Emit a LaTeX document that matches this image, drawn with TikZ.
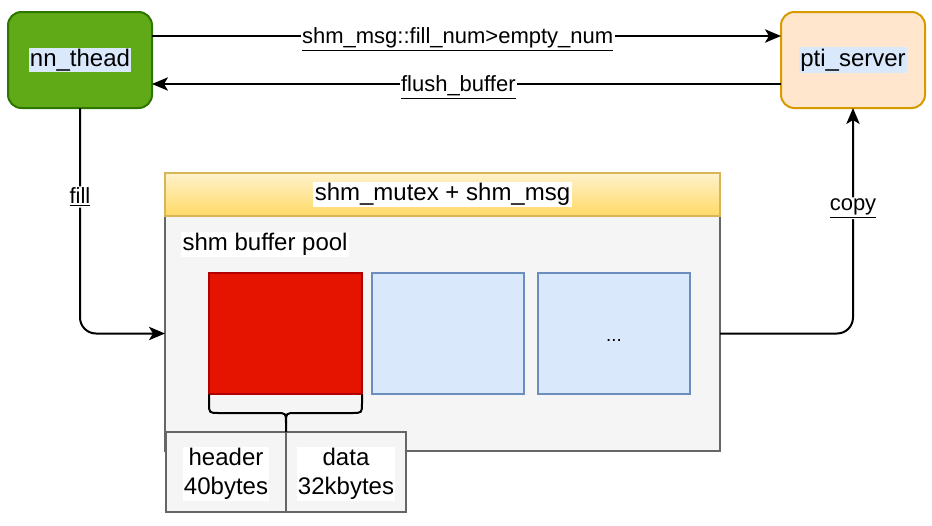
\documentclass[tikz,border=0pt]{standalone}
\usepackage{fontspec}
\setmainfont{Liberation Sans}
\usetikzlibrary{arrows.meta, positioning}
\definecolor{nnfill}{HTML}{60A917}
\definecolor{nndraw}{HTML}{2D7600}
\definecolor{ptifill}{HTML}{FFE6CC}
\definecolor{ptidraw}{HTML}{D79B00}
\definecolor{bluefill}{HTML}{DAE8FC}
\definecolor{bluedraw}{HTML}{6C8EBF}
\definecolor{redfill}{HTML}{E51400}
\definecolor{reddraw}{HTML}{B20000}
\definecolor{grayfill}{HTML}{F5F5F5}
\definecolor{graydraw}{HTML}{666666}
\definecolor{yellowtop}{HTML}{FFF2CC}
\definecolor{yellowbot}{HTML}{FFD966}
\definecolor{yellowdraw}{HTML}{D6B656}
\newcommand{\txtbg}[2]{{\setlength{\fboxsep}{1pt}\colorbox{#1}{#2}}}
\tikzstyle{arrow} = [
    line width=1.5pt,
    -{Stealth[length=12pt, width=10pt, inset=3pt]}
]

\begin{document}
\begin{tikzpicture}[
    x=0.75pt, y=-0.75pt,
    every node/.style={font=\fontsize{18}{21.6}\selectfont},
    box/.style={
        rectangle,
        draw,
        line width=1.5pt,
        outer sep=0pt,
        align=center
    },
    proc/.style={
        box,
        rounded corners=10pt,
        minimum width=108pt,
        minimum height=72pt
    },
    cell/.style={
        box,
        minimum width=114pt,
        minimum height=90.75pt
    },
    field/.style={
        box,
        fill=grayfill,
        draw=graydraw,
        minimum width=90pt,
        minimum height=60pt
    },
    lbl/.style={fill=white, inner sep=1pt},
    elbl/.style={lbl, font=\fontsize{16.5}{19.8}\selectfont, yshift=-2.5pt},
    bracepath/.style={line width=1.5pt}
]
\useasboundingbox (0,0) rectangle (932,525);

% Processes
\node[proc, fill=nnfill, draw=nndraw] (nn) at (80,60) {\txtbg{bluefill}{nn\_thead}};
\node[proc, fill=ptifill, draw=ptidraw] (pti) at (853,60) {\txtbg{bluefill}{pti\_server}};

% Shared memory
\node[box, fill=grayfill, draw=graydraw, minimum width=416.25pt, minimum height=176.25pt] (pool) at (442.5,333.5) {};
\node[box, top color=yellowtop, bottom color=yellowbot, draw=yellowdraw, minimum width=416.25pt, minimum height=32.25pt, above=0pt of pool] (mutex) {\txtbg{white}{shm\_mutex + shm\_msg}};
\node[lbl, anchor=north west] (pooltxt) at (181,232) {shm buffer pool};

% Buffers
\node[cell, fill=redfill, draw=reddraw, minimum width=114.75pt] (buf1) at (285.5,333.5) {};
\node[cell, fill=bluefill, draw=bluedraw, right=7.5pt of buf1] (buf2) {};
\node[cell, fill=bluefill, draw=bluedraw, right=10.5pt of buf2] (buf3) {\raisebox{-6pt}[0pt][0pt]{\fontsize{14}{16}\selectfont ...}};

% Buffer layout
\node[field] (header) at (226,472) {};
\node[field, right=0pt of header] (data) {};
\node[lbl, align=center, yshift=-1.5pt] (headertxt) at (header) {header\\40bytes};
\node[lbl, align=center, yshift=-1.5pt] (datatxt) at (data) {data\\32kbytes};
\draw[bracepath] (209,394) -- (209,403) .. controls (209,413) .. (219,413) -- (276,413) .. controls (286,413) .. (286,423) -- (286,432);
\draw[bracepath] (362,394) -- (362,403) .. controls (362,413) .. (352,413) -- (296,413) .. controls (286,413) .. (286,423);

% Arrows
\draw[arrow] ([yshift=18pt]nn.east) -- node[elbl, pos=0.486] {\underline{shm\_msg::fill\_num>empty\_num}} ([yshift=18pt]pti.west);
\draw[arrow] ([yshift=-18pt]pti.west) -- node[elbl, pos=0.513] {\underline{flush\_buffer}} ([yshift=-18pt]nn.east);
\draw[arrow, rounded corners=12pt] (nn.south) |- node[elbl, pos=0.19] {\underline{fill}} (pool.west);
\draw[arrow, rounded corners=12pt] (pool.east) -| node[elbl, pos=0.785] {\underline{copy}} (pti.south);

\end{tikzpicture}
\end{document}
